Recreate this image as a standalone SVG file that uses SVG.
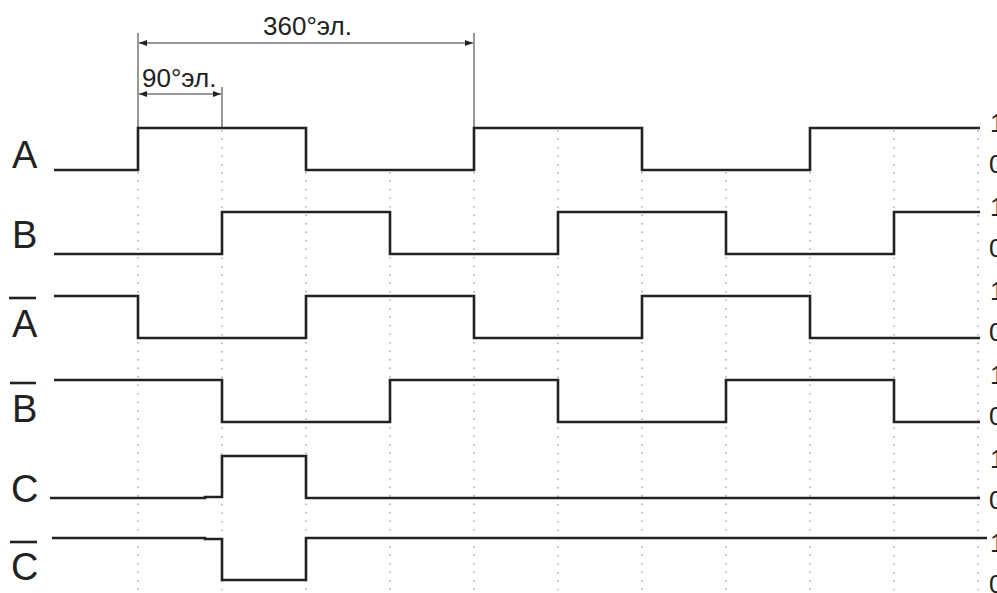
<svg xmlns="http://www.w3.org/2000/svg" width="997" height="593" viewBox="0 0 997 593">
<style>
.sig{fill:none;stroke:#222;stroke-width:2.6;stroke-linejoin:miter}
.grid{stroke:#9a9a9a;stroke-width:1.3;stroke-dasharray:1.5 7}
.lbl{font-family:"Liberation Sans",Arial,sans-serif;font-size:38px;fill:#222}
.lvl{font-family:"Liberation Sans",Arial,sans-serif;font-size:26px;fill:#222}
.dimt{font-family:"Liberation Sans",Arial,sans-serif;font-size:26px;fill:#222}
.ovl{stroke:#222;stroke-width:2.6}
.dim{stroke:#333;stroke-width:1;fill:none}
</style>
<defs>
<marker id="ah" viewBox="0 0 8 6" refX="8" refY="3" markerWidth="8" markerHeight="6" markerUnits="userSpaceOnUse" orient="auto-start-reverse">
<path d="M0,0 L8,3 L0,6 Z" fill="#222"/>
</marker>
</defs>
<rect width="997" height="593" fill="#fff"/>
<g id="grid">
<line class="grid" x1="222" y1="130" x2="222" y2="590"/>
<line class="grid" x1="138" y1="172" x2="138" y2="590"/>
<line class="grid" x1="306" y1="172" x2="306" y2="590"/>
<line class="grid" x1="390" y1="172" x2="390" y2="590"/>
<line class="grid" x1="474" y1="172" x2="474" y2="590"/>
<line class="grid" x1="558" y1="130" x2="558" y2="590"/>
<line class="grid" x1="642" y1="172" x2="642" y2="590"/>
<line class="grid" x1="726" y1="172" x2="726" y2="590"/>
<line class="grid" x1="810" y1="172" x2="810" y2="590"/>
<line class="grid" x1="894" y1="130" x2="894" y2="590"/>
<line class="grid" x1="978" y1="130" x2="978" y2="590"/>
</g>
<g id="connectors">
<line class="dim" x1="138" y1="33" x2="138" y2="128"/>
<line class="dim" x1="474" y1="33" x2="474" y2="128"/>
<line class="dim" x1="222" y1="87" x2="222" y2="128"/>
<line class="dim" x1="139" y1="43" x2="473" y2="43" marker-start="url(#ah)" marker-end="url(#ah)"/>
<line class="dim" x1="139" y1="94" x2="221" y2="94" marker-start="url(#ah)" marker-end="url(#ah)"/>
<text class="dimt" x="263" y="35">360°эл.</text>
<text class="dimt" x="142" y="87">90°эл.</text>
</g>
<g id="sig-A">
<text class="lbl" x="12" y="168">A</text>
<path class="sig" d="M54,170 H138 V128 H306 V170 H474 V128 H642 V170 H810 V128 H980"/>
<text class="lvl" x="990" y="132">1</text>
<text class="lvl" x="989" y="173">0</text>
</g>
<g id="sig-B">
<text class="lbl" x="12" y="248">B</text>
<path class="sig" d="M54,254 H222 V212 H390 V254 H558 V212 H726 V254 H894 V212 H980"/>
<text class="lvl" x="990" y="216">1</text>
<text class="lvl" x="989" y="257">0</text>
</g>
<g id="sig-Abar">
<line class="ovl" x1="9" y1="298" x2="36" y2="298"/>
<text class="lbl" x="12" y="337">A</text>
<path class="sig" d="M54,296 H138 V338 H306 V296 H474 V338 H642 V296 H810 V338 H980"/>
<text class="lvl" x="990" y="300">1</text>
<text class="lvl" x="989" y="341">0</text>
</g>
<g id="sig-Bbar">
<line class="ovl" x1="10" y1="383" x2="36" y2="383"/>
<text class="lbl" x="12" y="422">B</text>
<path class="sig" d="M54,380 H222 V422 H390 V380 H558 V422 H726 V380 H894 V422 H980"/>
<text class="lvl" x="990" y="384">1</text>
<text class="lvl" x="989" y="425">0</text>
</g>
<g id="sig-C">
<text class="lbl" x="11" y="502">C</text>
<path class="sig" d="M50,498 H205 V497 H222 V456 H306 V498 H980"/>
<text class="lvl" x="990" y="468">1</text>
<text class="lvl" x="989" y="509">0</text>
</g>
<g id="sig-Cbar">
<line class="ovl" x1="10" y1="542" x2="37" y2="542"/>
<text class="lbl" x="11" y="580">C</text>
<path class="sig" d="M52,538 H205 V539 H222 V580 H306 V538 H987"/>
<text class="lvl" x="990" y="552">1</text>
<text class="lvl" x="989" y="593">0</text>
</g>
</svg>
